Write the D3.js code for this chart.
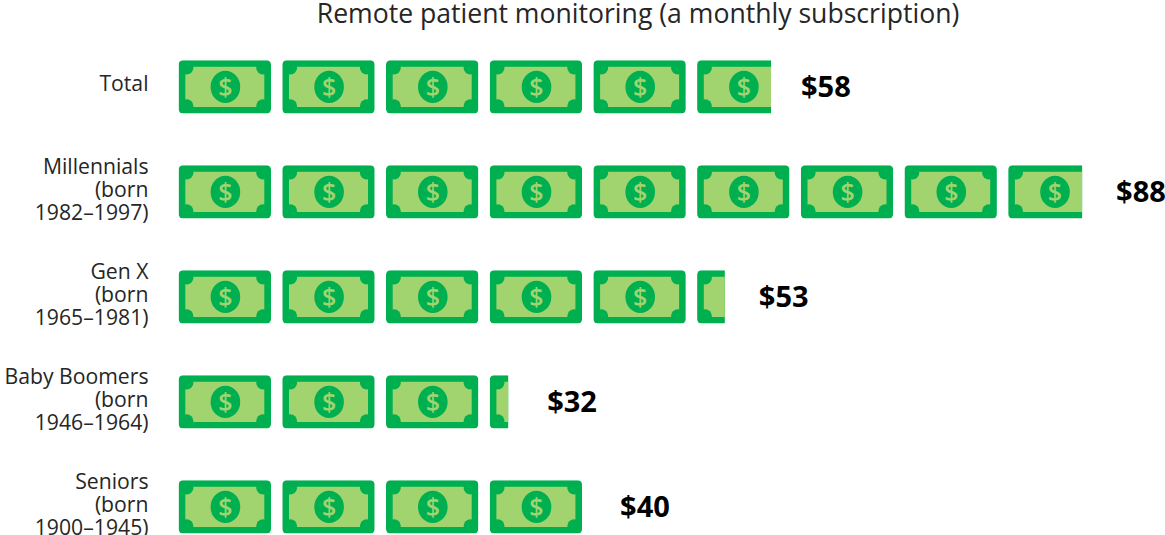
<!DOCTYPE html>
<html><head><meta charset="utf-8">
<script src="https://cdn.jsdelivr.net/npm/d3@7"></script>
<style>
html,body{margin:0;padding:0;background:#fff}
svg{display:block}
text{font-family:"Open Sans",sans-serif}
</style></head><body>
<svg id="c" width="1165" height="535"></svg>
<script>
const title = "Remote patient monitoring (a monthly subscription)";
const categories = [["Total"],["Millennials","(born","1982–1997)"],["Gen X","(born","1965–1981)"],["Baby Boomers","(born","1946–1964)"],["Seniors","(born","1900–1945)"]];
const values = [58,88,53,32,40];
const valueLabels = ["$58","$88","$53","$32","$40"];
const dollarsPerBill = 10;

const W = 92.4, H = 53.2, PITCH = 103.7, LEFT = 178.6, TOP = 60.3, ROW = 105;
const labelGaps = [30,34,34,39,38];

const svg = d3.select("#c");
const y = d3.scaleLinear().domain([0,1]).range([TOP, TOP+ROW]);
const xBill = d3.scaleLinear().domain([0,1]).range([LEFT, LEFT+PITCH]);
const xIn = d3.scaleLinear().domain([0,dollarsPerBill]).range([0,W]);

svg.append("text").attr("x",638).attr("y",23).attr("text-anchor","middle")
  .attr("font-size",26.6).attr("fill","#262626").text(title);

const defs = svg.append("defs");
function bill(g){
  const dark="#00AF50", light="#A1D46F";
  g.append("rect").attr("width",W).attr("height",H).attr("rx",4.5).attr("fill",dark);
  g.append("rect").attr("x",6.7).attr("y",6.5).attr("width",W-13.4).attr("height",H-13).attr("fill",light);
  [[8,7.5],[W-8,7.5],[8,H-7.5],[W-8,H-7.5]].forEach(c=>{
    g.append("circle").attr("cx",c[0]).attr("cy",c[1]).attr("r",6.8).attr("fill",dark);
  });
  g.append("ellipse").attr("cx",W/2+0.6).attr("cy",H/2).attr("rx",14.8).attr("ry",16.2).attr("fill",dark);
  g.append("text").attr("x",W/2+0.6).attr("y",H/2+9).attr("text-anchor","middle")
    .attr("font-size",25).attr("font-weight",600).attr("fill",light).text("$");
}

values.forEach((v,i)=>{
  const row = svg.append("g").attr("transform",`translate(0,${y(i)})`);
  const lines = categories[i];
  const base = lines.length===1 ? 31 : 9;
  row.append("text").attr("text-anchor","end").attr("font-size",21.2).attr("fill","#262626")
    .selectAll("tspan").data(lines).join("tspan")
    .attr("x",148.5).attr("y",(d,k)=>base+k*22.9).text(d=>d);
  const n = Math.ceil(v/dollarsPerBill);
  d3.range(n).forEach(b=>{
    const remaining = Math.min(dollarsPerBill, v-b*dollarsPerBill);
    const id = `clip-${i}-${b}`;
    defs.append("clipPath").attr("id",id).append("rect")
      .attr("width",xIn(remaining)).attr("height",H);
    const g = row.append("g").attr("transform",`translate(${xBill(b)},0)`)
      .append("g").attr("clip-path",`url(#${id})`);
    bill(g);
  });
  const rem = v-(n-1)*dollarsPerBill;
  const end = xBill(n-1)+xIn(rem);
  row.append("text").attr("x",end+labelGaps[i]).attr("y",36.5).attr("font-size",29)
    .attr("font-weight",700).attr("fill","#000").text(valueLabels[i]);
});
</script>
</body></html>
